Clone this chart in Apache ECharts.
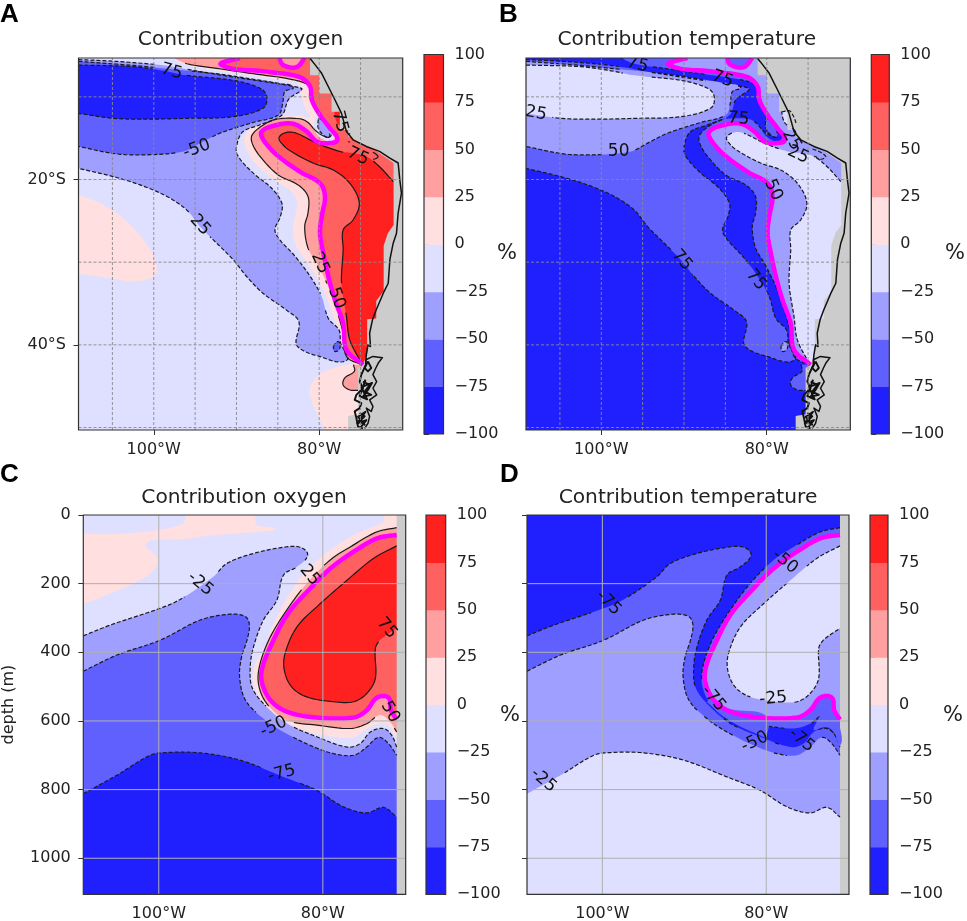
<!DOCTYPE html>
<html><head><meta charset="utf-8">
<style>html,body{margin:0;padding:0;background:#fff}#c{width:967px;height:921px}#c canvas{filter:blur(0.45px)}</style>
<script src="https://cdn.jsdelivr.net/npm/echarts@6/dist/echarts.min.js"></script>
</head><body><div id="c"></div>
<script>
// ---------- colour bands ----------
const bandLevels = [-100,-75,-50,-25,0,25,50,75];
const bandColors = ['#2020ff','#6060ff','#9f9fff','#dfdfff','#ffdfdf','#ff9f9f','#ff6060','#ff2020'];
const colorbarTicks = [-100,-75,-50,-25,0,25,50,75,100];

// ---------- axis extents / ticks ----------
const mapLon = [-109.1,-69.9], mapLat = [-50.3,-5.3];
const secLon = [-109.2,-69.9], secDepth = [0,1105];
const mapLonTicks = [-100,-80], mapLatTicks = [-20,-40];
const mapGridLon = [-105,-100,-95,-90,-85,-80,-75], mapGridLat = [-10,-20,-30,-40,-50];
const secLonTicks = [-100,-80], secDepthTicks = [0,200,400,600,800,1000];
const secGridDepth = [200,400,600,800,1000];

// ---------- map contours (lon, lat) ----------
const mapLand = [[-81.1,-5.3],[-81.1,-7.4],[-80,-7.4],[-80,-9.6],[-78.5,-9.6],[-78.5,-11.8],[-77.5,-11.8],[-77.5,-14],[-76.5,-14],[-76.5,-14.8],[-75.3,-15.4],[-73.3,-16.4],[-71,-18],[-71,-25.5],[-71.7,-26.5],[-72.2,-28],[-72.2,-33.5],[-73.1,-34.7],[-73.1,-36.8],[-74.2,-36.9],[-74.2,-41],[-74.7,-42.4],[-75.3,-42.8],[-75.3,-48.4],[-76.5,-48.6],[-76.5,-50.3],[-69.9,-50.3],[-69.9,-5.3]];
const mapN25 = [[-109.1,-5.5],[-106.5,-5.6],[-102.5,-5.85],[-98.4,-6.25],[-94.4,-6.95],[-90.4,-7.6],[-86.4,-8.2],[-82.5,-8.85],[-82.1,-9.1],[-83.7,-10.3],[-84.5,-12.2],[-87.2,-13.4],[-89.2,-14.2],[-89.9,-15.6],[-89.9,-17],[-88,-19.2],[-85.8,-21],[-84.5,-22.9],[-84.7,-24.5],[-85.35,-26.1],[-84.75,-27.3],[-82.9,-29.3],[-81.1,-31.7],[-79.7,-34.15],[-78.9,-36.8],[-77.6,-38.2],[-77.4,-39.8],[-76.7,-41.9],[-80.3,-41.3],[-82.1,-40.6],[-82.8,-39.8],[-82.45,-37.2],[-83.95,-35.8],[-86.8,-33.75],[-88.8,-31.7],[-90.4,-29.7],[-92.8,-27.3],[-94.4,-25.7],[-96,-23.7],[-98.4,-22.05],[-101.65,-20.65],[-104.9,-19.65],[-109.1,-18.65]];
const mapN50 = [[-109.1,-5.7],[-102.5,-6.2],[-98.4,-6.6],[-92.4,-7.2],[-88.4,-7.8],[-84.75,-8.4],[-83.15,-8.85],[-84.15,-9.35],[-84.4,-10.75],[-84.95,-12.2],[-88,-13.1],[-92,-14.4],[-94.4,-15.6],[-96.4,-16.6],[-100.45,-17],[-104.5,-16.9],[-109.1,-16]];
const mapN75 = [[-109.1,-6.15],[-102.5,-6.35],[-98.8,-6.85],[-96,-7.4],[-90.4,-8],[-87.15,-8.95],[-86.35,-9.95],[-86.75,-11.35],[-90.4,-12.4],[-96,-12.6],[-100.45,-12.7],[-104.85,-12.6],[-109.1,-12]];
const mapPocketRing = [[-80.5,-12.2],[-78.9,-12.6],[-78.1,-14.8],[-78.9,-15.4],[-80.5,-14.2],[-80.5,-12.2]];
const mapPocketN25 = [[-80.1,-12.6],[-79.3,-13],[-78.7,-14.6],[-79.1,-14.9],[-80.1,-13.8],[-80.1,-12.6]];
const mapPatchN50 = [[-78.3,-40.2],[-77.7,-39.6],[-77.5,-40.4],[-78.1,-40.8],[-78.3,-40.2]];
const mapP0Offshore = [[-109.1,-21.85],[-106.5,-22.85],[-103.65,-24.7],[-101.25,-27.3],[-99.85,-29.7],[-99.85,-31.55],[-102.45,-32.35],[-105.25,-31.95],[-109.1,-31.4]];
const mapP0Coast = [[-97.85,-5.3],[-95.8,-6.25],[-92.4,-6.8],[-88,-7.45],[-83.95,-8.05],[-82.35,-8.45],[-82.15,-9.95],[-81.6,-11.55],[-81.2,-12.45],[-82.35,-12.2],[-85.15,-12.45],[-87.35,-13.25],[-88.95,-14.6],[-88.85,-16.2],[-87.55,-18.25],[-85.15,-20.25],[-83.35,-21.45],[-82.65,-22.85],[-82.95,-24.5],[-83.2,-26.1],[-82.75,-28.1],[-80.9,-30.9],[-79.7,-32.95],[-78.7,-35.35],[-77.9,-37.6],[-77.1,-39.4],[-76.7,-41],[-75.9,-42.2],[-74.3,-42.4]];
const mapP0CoastEdge = [[-69.9,-42.4],[-69.9,-5.3]];
const mapP0South = [[-75.9,-42.3],[-78.3,-42.8],[-80.3,-43.85],[-81.2,-45.65],[-80.5,-47.85],[-79.3,-50.3]];
const mapP0SouthEdge = [[-74,-50.3],[-74,-42.3]];
const mapP25South = [[-75.85,-42.4],[-75.75,-43.2],[-76.9,-44],[-77.1,-44.85],[-76.3,-45.45],[-75.3,-45.5]];
const mapP25SouthEdge = [[-74,-45.5],[-74,-42.4]];
const mapP25 = [[-97.6,-5.3],[-96,-6],[-92.4,-6.55],[-88,-7.2],[-83.55,-7.85],[-81.35,-8.55],[-80.9,-9.55],[-80.5,-11.15],[-79.5,-12.8],[-78.5,-14.4],[-78.9,-14.9],[-80.3,-14.2],[-81.35,-13.1],[-82.35,-12.65],[-85.15,-12.7],[-86.75,-13.4],[-88.1,-14.6],[-88.1,-15.6],[-87.15,-17.2],[-84.95,-19.45],[-82.55,-20.65],[-81.35,-22.05],[-81.35,-24.05],[-81.75,-25.7],[-81.35,-28.3],[-80.3,-30.1],[-78.9,-32.95],[-77.9,-35.75],[-77.1,-38.6],[-76.7,-41.4],[-74.9,-42.4]];
const mapP25Edge = [[-69.9,-42.4],[-69.9,-5.3]];
const mapP50 = [[-89.6,-5.3],[-91.8,-6.15],[-86.35,-6.95],[-82.35,-7.6],[-81.1,-8.75],[-80.9,-10.35],[-79.9,-12.2],[-78.7,-13.8],[-77.8,-15.2],[-78.9,-15.6],[-80.3,-15.4],[-81.5,-14.2],[-83.15,-13.25],[-85.15,-13.4],[-86.95,-14.2],[-86.75,-15.2],[-85.15,-17],[-82.35,-19.05],[-79.9,-20.45],[-79.3,-22.05],[-79.7,-24.5],[-79.9,-26.5],[-79.5,-28.9],[-78.9,-31.7],[-78.1,-34.55],[-77.1,-37.4],[-76.7,-40.6],[-74.7,-42.4]];
const mapP50Edge = [[-69.9,-42.4],[-69.9,-5.3]];
const mapP50Hole = [[-84.85,-5.3],[-84.35,-6.15],[-82.75,-6.4],[-81.75,-5.3]];
const mapP75 = [[-71.05,-20.25],[-72.7,-18.45],[-74.3,-17.2],[-75.9,-16.8],[-77.5,-16.6],[-80.3,-15.6],[-82.75,-14.4],[-83.95,-14.3],[-84.85,-14.9],[-84.55,-15.6],[-83.55,-16.5],[-80.75,-18],[-78.3,-18.85],[-76.3,-20.45],[-75.15,-22.85],[-75.9,-24.9],[-77.1,-26.1],[-77.1,-28.5],[-77.3,-32.55],[-76.7,-36.6],[-76.3,-39.4],[-74.9,-42.2]];
const mapP75Edge = [[-69.9,-42.2],[-69.9,-20.25]];
const mapP75Coast = [[-78.2,-11.8],[-77.1,-11.8],[-76.3,-14.4],[-77.1,-13.8],[-77.9,-13],[-78.2,-11.8]];
const mapCoastSliver = [[-76.5,-15.4],[-74.7,-16.2],[-72.9,-17.15],[-73.6,-17.55],[-74.3,-17]];
const mapCoast = [[-81.1,-5.35],[-80.5,-6.1],[-79.7,-7.15],[-78.9,-8.75],[-78.1,-10.35],[-77.3,-12],[-76.7,-14.2],[-75.9,-15.2],[-74.3,-16],[-72.7,-16.6],[-71.45,-17.4],[-70.45,-18],[-70.25,-20.05],[-70.05,-21.65],[-70.45,-24.05],[-70.65,-26.5],[-71.05,-27.7],[-71.45,-29.7],[-71.65,-32.55],[-72.25,-33.75],[-73.1,-35.75],[-73.55,-36.95],[-73.9,-38.6],[-73.8,-40.2],[-74.1,-40],[-74.3,-41.2],[-74.35,-41.8],[-73.5,-41.4],[-72.35,-41.55],[-72.85,-42.2],[-73.15,-42.8],[-73.5,-43.6],[-73.05,-44.45],[-73.5,-45.25],[-73.05,-46.05],[-73.9,-46.65],[-73.5,-47.45],[-73.7,-48.05],[-74.3,-47.65],[-73.9,-48.65],[-74.1,-49.5],[-74.5,-50.1]];
const mapIslandsWest = [[-74.35,-41.8],[-74.35,-42.4],[-74.9,-43.6],[-75.1,-44.45],[-74.7,-45.25],[-75.5,-46.05],[-75.7,-46.65],[-74.9,-47.05],[-75.1,-47.65],[-75.7,-48.05],[-75.5,-48.85],[-75.3,-49.9],[-74.7,-50.1]];
const mapIslandsA = [[-74.7,-44.45],[-73.9,-44.85],[-74.5,-45.65],[-73.7,-46.05],[-74.7,-46.25],[-74.1,-45.45],[-73.6,-44.6],[-74.9,-45.1],[-74.2,-46.6],[-75.1,-46.2],[-74.4,-44.2]];
const mapIslandsB = [[-75.1,-48.25],[-74.5,-48.65],[-75.1,-49.25],[-74.5,-49.65],[-75.3,-48.7],[-74.4,-48.1],[-75.4,-49.5],[-74.3,-49.1],[-75,-50]];
const mapIslandsC = [[-74.1,-42],[-73.7,-42.8],[-74.1,-43.2],[-74.5,-42.8],[-74.1,-42]];

// ---------- section contours (lon, depth m) ----------
const secStrip = [[-71,0],[-71,1105],[-69.9,1105],[-69.9,0]];
const secP0Blob = [[-109.2,260],[-106.35,233],[-103.1,199],[-101.05,170],[-100.1,131],[-100.85,107],[-101.6,87],[-100.65,73],[-97.4,71],[-92.9,58],[-86.85,47],[-85.8,39],[-88.05,29],[-88.45,0],[-96.6,0],[-97,24],[-100.25,44],[-105.1,55],[-109.2,55]];
const secP0 = [[-72.6,0],[-72.6,19],[-76.25,58],[-79.1,102],[-81.95,160],[-84,228],[-86,316],[-87.25,394],[-88.25,433],[-88.45,491],[-87.25,549],[-84.8,598],[-82.35,627],[-78.7,646],[-76.25,648],[-75.05,629],[-73.4,609],[-72.2,609],[-71,651]];
const secP0Edge = [[-69.9,651],[-69.9,0]];
const secN25 = [[-109.2,352],[-105.95,321],[-99.85,272],[-97.4,246],[-93.35,180],[-91.7,141],[-88.45,112],[-84.8,94],[-82.75,94],[-81.85,117],[-83.15,151],[-84.8,175],[-85.6,248],[-87.25,306],[-88.45,384],[-88.85,442],[-88.65,501],[-87.25,549],[-84.4,607],[-80.75,646],[-77.05,676],[-75.45,666],[-74.2,632],[-72.6,622],[-71.6,642],[-71,676]];
const secN25Edge = [[-69.9,676],[-69.9,1105],[-109.2,1105]];
const secN50 = [[-109.2,455],[-105.1,408],[-99.85,365],[-94.95,306],[-91.3,289],[-89.45,296],[-88.95,321],[-89.25,365],[-89.9,413],[-90.15,471],[-89.45,539],[-87.25,593],[-84.8,632],[-81.55,671],[-78.7,695],[-76.25,700],[-74.65,676],[-73.2,648],[-72,666],[-71,700]];
const secN50Edge = [[-69.9,700],[-69.9,1105],[-109.2,1105]];
const secN75 = [[-109.2,812],[-105.1,758],[-101.05,700],[-99,692],[-94.95,693],[-90.1,714],[-84.8,763],[-80.75,802],[-77.5,850],[-74.65,868],[-72.6,852],[-71,880]];
const secN75Edge = [[-69.9,880],[-69.9,1105],[-109.2,1105]];
const secP25 = [[-71,37],[-73.4,49],[-76.25,87],[-79.1,131],[-81.95,199],[-84.4,277],[-86.4,355],[-87.65,433],[-87.85,491],[-86.85,549],[-84.4,598],[-80.75,612],[-76.65,622],[-74.65,608],[-73,583],[-71.8,603],[-71,632]];
const secP25Edge = [[-69.9,632],[-69.9,37]];
const secP50 = [[-71,58],[-73.4,68],[-76.25,107],[-79.1,156],[-81.55,214],[-84.4,292],[-86.4,384],[-87.35,442],[-87.45,486],[-86.4,539],[-84.4,573],[-80.75,590],[-76.25,590],[-74.65,569],[-73.4,532],[-72,532],[-71.7,569],[-71,596]];
const secP50Edge = [[-69.9,596],[-69.9,58]];
const secP75 = [[-71,90],[-73.8,126],[-77.05,190],[-80.3,258],[-83.15,326],[-84.6,403],[-84.7,452],[-83.8,501],[-81.95,530],[-78.7,544],[-76.25,544],[-74.65,520],[-73.6,476],[-73.6,389],[-73,364],[-71,330]];
const secP75Edge = [[-69.9,330],[-69.9,90]];
// temperature section only: stretches where the -75 band is absent below the magenta line
const secTempMidLeft = [[-86.85,535],[-84.4,565],[-80.0,585],[-80.0,645],[-80.75,642],[-84.4,600],[-87.25,545]];
const secTempMidRight = [[-74.2,618],[-73,578],[-71.6,598],[-71,620],[-71,672],[-71.6,638],[-72.6,618],[-74.2,628]];

// ---------- contour labels: text, x, y, rotation in degrees ----------
const labelsA = [['75',-97.85,-6.95,-15],['-50',-94.8,-16.3,20],['25',-94.4,-25.5,-48],['75',-77.5,-13,-75],['75',-75.3,-17.2,-25],['25',-79.9,-30.1,-65],['50',-77.9,-34.35,-70]];
const labelsB = [['75',-95.6,-6.1,-15],['75',-85.35,-7.85,-20],['25',-107.9,-12,-10],['75',-83.4,-12.65,-4],['50',-97.9,-16.6,0],['25',-76.2,-17,-25],['25',-77,-15.2,-60],['50',-79.2,-21.25,-65],['75',-90.25,-29.75,-50],['75',-81.3,-32.15,-50]];
const labelsC = [['-25',-94.95,201,-40],['25',-81.6,175,-50],['75',-72.2,330,-50],['50',-71.8,574,-60],['-50',-86,617,25],['-75',-85,753,15]];
const labelsD = [['-75',-99.25,256,-45],['-50',-77.7,136,-40],['-75',-86.45,535,-50],['-25',-79.15,535,5],['-50',-81.4,661,25],['-75',-75.7,656,-40],['-25',-107.2,773,-40]];

// ---------- panel text ----------
const panelLetters = ['A','B','C','D'];
const panelTitles = ['Contribution oxygen','Contribution temperature','Contribution oxygen','Contribution temperature'];

// ---------- layouts ----------
const FONT = '"DejaVu Sans"';
const INK = '#222';
const plots = [
  {left:78.5,top:58,width:324.2,height:372},
  {left:526,top:58,width:324.3,height:372},
  {left:83.3,top:515,width:322.4,height:379.3},
  {left:527,top:515,width:322,height:379.3}
];
const bars = [
  {left:424,top:54.5,width:19.5,height:379.5},
  {left:871.3,top:54.5,width:18,height:379.5},
  {left:426,top:515,width:19.7,height:379.3},
  {left:870,top:515,width:18,height:379.3}
];

// line kinds: 'neg' dashed in oxygen, 'pos' solid in oxygen, 'mag' magenta, null none
const mapLayers = [
  {line:mapP0Offshore,edge:[],level:0,kind:null},
  {line:mapP0Coast,edge:mapP0CoastEdge,level:0,kind:null},
  {line:mapP0South,edge:mapP0SouthEdge,level:0,kind:null},
  {line:mapP25South,edge:mapP25SouthEdge,level:25,kind:'pos'},
  {line:mapP25,edge:mapP25Edge,level:25,kind:'pos'},
  {line:mapPocketRing,edge:[],level:-25,kind:null},
  {line:mapPocketN25,edge:[],level:-50,kind:'neg'},
  {line:mapP50,edge:mapP50Edge,level:50,kind:'mag'},
  {line:mapP50Hole,edge:[],level:25,kind:'mag'},
  {line:mapP75,edge:mapP75Edge,level:75,kind:'pos'},
  {line:mapP75Coast,edge:[],level:75,kind:'pos'},
  {line:mapN25,edge:[],level:-50,kind:'neg'},
  {line:mapN50,edge:[],level:-75,kind:'neg'},
  {line:mapPatchN50,edge:[],level:-75,kind:'neg'},
  {line:mapN75,edge:[],level:-100,kind:'neg'}
];
const secLayers = [
  {line:secP0Blob,edge:[],level:0,kind:null},
  {line:secP0,edge:secP0Edge,level:0,kind:null},
  {line:secP25,edge:secP25Edge,level:25,kind:'pos'},
  {line:secP50,edge:secP50Edge,level:50,kind:'mag'},
  {line:secP75,edge:secP75Edge,level:75,kind:'pos'},
  {line:secN25,edge:secN25Edge,level:-50,kind:'neg'},
  {line:secN50,edge:secN50Edge,level:-75,kind:'neg'},
  {line:secN75,edge:secN75Edge,level:-100,kind:'neg'}
];

function bandColor(level){ return bandColors[bandLevels.indexOf(level)]; }
function tempColor(level){
  const v = Math.abs(level+12.5)-100;
  return bandColors[bandLevels.indexOf(Math.floor(v/25)*25)];
}
// smooth a traced contour in screen space
function curve(p){
  if(p.length<3) return p.slice();
  const out=[], n=p.length, S=8;
  const tan=(i)=>{
    const a=p[Math.max(i-1,0)], b=p[Math.min(i+1,n-1)];
    const dx=b[0]-a[0], dy=b[1]-a[1], l=Math.hypot(dx,dy)||1;
    return [dx/l,dy/l];
  };
  for(let i=0;i<n-1;i++){
    const a=p[i], b=p[i+1], L=Math.hypot(b[0]-a[0],b[1]-a[1]), t0=tan(i), t1=tan(i+1);
    for(let k=0;k<S;k++){
      const t=k/S,t2=t*t,t3=t2*t;
      const h00=2*t3-3*t2+1,h10=t3-2*t2+t,h01=-2*t3+3*t2,h11=t3-t2;
      out.push([h00*a[0]+h10*L*t0[0]+h01*b[0]+h11*L*t1[0],
                h00*a[1]+h10*L*t0[1]+h01*b[1]+h11*L*t1[1]]);
    }
  }
  out.push(p[n-1]);
  return out;
}
function panelRender(o){
  return function(params,api){
    const c=[];
    const C=q=>api.coord(q);
    const xr=o.xr, yr=o.yr;
    const labs=o.labels.map(l=>({t:l[0],p:C([l[1],l[2]]),r:l[3]}));
    c.push({type:'polygon',shape:{points:[[xr[0],yr[0]],[xr[1],yr[0]],[xr[1],yr[1]],[xr[0],yr[1]]].map(C)},style:{fill:o.color(-25)},silent:true});
    const curves=o.layers.map(L=>curve(L.line.map(C)));
    o.layers.forEach((L,i)=>{
      c.push({type:'polygon',shape:{points:curves[i].concat(L.edge.map(C))},style:{fill:o.color(L.level)},silent:true});
    });
    c.push({type:'polygon',shape:{points:o.land.map(C)},style:{fill:'#cccccc'},silent:true});
    const runs=(pts)=>{
      const res=[];let cur=[];
      pts.forEach(q=>{
        const hit=labs.some(l=>Math.hypot(q[0]-l.p[0],q[1]-l.p[1])<6+l.t.length*4.6);
        if(hit){ if(cur.length>1)res.push(cur); cur=[]; } else cur.push(q);
      });
      if(cur.length>1)res.push(cur);
      return res;
    };
    const stroke=(pts,solid)=>{
      runs(pts).forEach(r=>c.push({type:'polyline',shape:{points:r},style:{fill:null,stroke:'#1a1a1a',lineWidth:1.2,lineDash:solid?null:[4,2]},silent:true}));
    };
    o.layers.forEach((L,i)=>{
      if(L.kind==='neg') stroke(curves[i],false);
      if(L.kind==='pos') stroke(curves[i],!o.allDashed);
    });
    if(o.sliver) stroke(curve(o.sliver.map(C)),!o.allDashed);
    (o.patches||[]).forEach(p=>c.push({type:'polygon',shape:{points:curve(p.map(C))},style:{fill:bandColors[1]},silent:true}));
    o.layers.forEach((L,i)=>{
      if(L.kind==='mag') c.push({type:'polyline',shape:{points:curves[i]},style:{fill:null,stroke:'#ff00ff',lineWidth:4.5,lineJoin:'round'},silent:true});
    });
    (o.coasts||[]).forEach((k,i)=>c.push({type:'polyline',shape:{points:k.map(C)},style:{fill:null,stroke:'#111',lineWidth:i<1?1.5:1.9,lineJoin:'round'},silent:true}));
    o.gridX.forEach(v=>c.push({type:'line',shape:{x1:C([v,yr[0]])[0],y1:C([v,yr[0]])[1],x2:C([v,yr[1]])[0],y2:C([v,yr[1]])[1]},style:o.gridStyle,silent:true}));
    o.gridY.forEach(v=>c.push({type:'line',shape:{x1:C([xr[0],v])[0],y1:C([xr[0],v])[1],x2:C([xr[1],v])[0],y2:C([xr[1],v])[1]},style:o.gridStyle,silent:true}));
    labs.forEach(l=>c.push({type:'text',x:l.p[0],y:l.p[1],rotation:l.r*Math.PI/180,silent:true,
      style:{text:l.t,x:0,y:0,align:'center',verticalAlign:'middle',fill:'#111',font:'17px '+FONT}}));
    return {type:'group',children:c};
  };
}
function frameRender(xr,yr){
  return (params,api)=>{
    const a=api.coord([xr[0],yr[0]]), b=api.coord([xr[1],yr[1]]);
    return {type:'polygon',shape:{points:[a,[b[0],a[1]],b,[a[0],b[1]]]},style:{fill:null,stroke:'#333',lineWidth:1.2},silent:true};
  };
}
const mapDash={stroke:'#8a8a8a',lineWidth:0.9,lineDash:[3,2]};
const secGrid={stroke:'#b0b0b0',lineWidth:1};
const mapCoasts=[mapCoast,mapIslandsWest,mapIslandsA,mapIslandsB,mapIslandsC];
const panelSpecs=[
 {map:true,xr:mapLon,yr:mapLat,layers:mapLayers,land:mapLand,color:bandColor,labels:labelsA,coasts:mapCoasts,sliver:mapCoastSliver,gridX:mapGridLon,gridY:mapGridLat,gridStyle:mapDash,allDashed:false},
 {map:true,xr:mapLon,yr:mapLat,layers:mapLayers,land:mapLand,color:tempColor,labels:labelsB,coasts:mapCoasts,sliver:mapCoastSliver,gridX:mapGridLon,gridY:mapGridLat,gridStyle:mapDash,allDashed:true},
 {map:false,xr:secLon,yr:secDepth,layers:secLayers,land:secStrip,color:bandColor,labels:labelsC,gridX:secLonTicks,gridY:secGridDepth,gridStyle:secGrid,allDashed:false},
 {map:false,xr:secLon,yr:secDepth,layers:secLayers,land:secStrip,color:tempColor,labels:labelsD,patches:[secTempMidLeft,secTempMidRight],gridX:secLonTicks,gridY:secGridDepth,gridStyle:secGrid,allDashed:true}
];
const tickStyle={show:true,length:5,lineStyle:{color:'#333',width:1}};
const lblStyle={color:INK,fontFamily:FONT,fontSize:16};
const grids=[],xAxes=[],yAxes=[],series=[];
panelSpecs.forEach((s,i)=>{
  grids.push(plots[i]);
  const g=grids.length-1;
  xAxes.push({gridIndex:g,type:'value',min:s.xr[0],max:s.xr[1],splitLine:{show:false},axisLine:{show:false},
    axisTick:Object.assign({customValues:s.map?mapLonTicks:secLonTicks},tickStyle),
    axisLabel:Object.assign({customValues:s.map?mapLonTicks:secLonTicks,formatter:v=>Math.abs(v)+'°W',hideOverlap:false,margin:12},lblStyle)});
  const showY=(i!==1);
  yAxes.push({gridIndex:g,type:'value',min:s.yr[0],max:s.yr[1],inverse:!s.map,splitLine:{show:false},axisLine:{show:false},
    name:i===2?'depth (m)':'',nameLocation:'middle',nameGap:66,nameTextStyle:{color:INK,fontFamily:FONT,fontSize:16},
    axisTick:Object.assign({customValues:s.map?mapLatTicks:secDepthTicks},tickStyle,{show:showY}),
    axisLabel:Object.assign({customValues:s.map?mapLatTicks:secDepthTicks,show:i===0||i===2,formatter:v=>s.map?Math.abs(v)+'°S':String(v),margin:12.5},lblStyle)});
  series.push({type:'custom',xAxisIndex:g,yAxisIndex:g,coordinateSystem:'cartesian2d',clip:true,silent:true,animation:false,z:2,
    data:[[s.xr[0],s.yr[0]]],encode:{x:0,y:1},renderItem:panelRender(s)});
  series.push({type:'custom',xAxisIndex:g,yAxisIndex:g,coordinateSystem:'cartesian2d',clip:false,silent:true,animation:false,z:5,
    data:[[s.xr[0],s.yr[0]]],encode:{x:0,y:1},renderItem:frameRender(s.xr,s.yr)});
});
bars.forEach(b=>{
  grids.push(b);
  const g=grids.length-1;
  xAxes.push({gridIndex:g,type:'value',min:0,max:1,show:false});
  yAxes.push({gridIndex:g,type:'value',min:-100,max:100,interval:25,position:'right',splitLine:{show:false},axisLine:{show:false},
    axisTick:tickStyle,axisLabel:Object.assign({formatter:v=>String(v).replace('-','\u2212'),margin:11},lblStyle)});
  series.push({type:'custom',xAxisIndex:g,yAxisIndex:g,coordinateSystem:'cartesian2d',clip:true,silent:true,animation:false,z:2,
    data:bandLevels.map((l,i)=>[0,l,l+25,bandColors[i]]),encode:{x:0,y:[1,2]},
    renderItem:(params,api)=>{
      const a=api.coord([0,api.value(1)]),b=api.coord([1,api.value(2)]);
      return {type:'rect',shape:{x:a[0],y:b[1],width:b[0]-a[0],height:a[1]-b[1]+0.5},style:{fill:api.value(3)},silent:true};
    }});
  series.push({type:'custom',xAxisIndex:g,yAxisIndex:g,coordinateSystem:'cartesian2d',clip:false,silent:true,animation:false,z:5,
    data:[[0,-100]],encode:{x:0,y:1},renderItem:frameRender([0,1],[-100,100])});
});
const titles=[];
const letterPos=[[0,2],[499,2],[0,462],[500,462]];
panelLetters.forEach((t,i)=>titles.push({text:t,left:letterPos[i][0],top:letterPos[i][1],padding:0,textStyle:{fontFamily:'"Liberation Sans"',fontWeight:'bold',fontSize:26,color:'#000'}}));
const titlePos=[[240.5,30],[686.8,30],[244,488],[688,488]];
panelTitles.forEach((t,i)=>titles.push({text:t,left:titlePos[i][0],top:titlePos[i][1],textAlign:'center',padding:0,textStyle:{fontFamily:FONT,fontWeight:'normal',fontSize:20.2,color:INK}}));
const pctPos=[[497,243],[945,243],[500,705],[943,705]];
pctPos.forEach(p=>titles.push({text:'%',left:p[0],top:p[1],padding:0,textStyle:{fontFamily:FONT,fontWeight:'normal',fontSize:21,color:INK}}));

const chart=echarts.init(document.getElementById('c'),null,{renderer:'canvas'});
chart.setOption({backgroundColor:'#fff',animation:false,title:titles,grid:grids.map(g=>Object.assign({containLabel:false,outerBoundsMode:'none'},g)),xAxis:xAxes,yAxis:yAxes,series:series});
</script></body></html>
